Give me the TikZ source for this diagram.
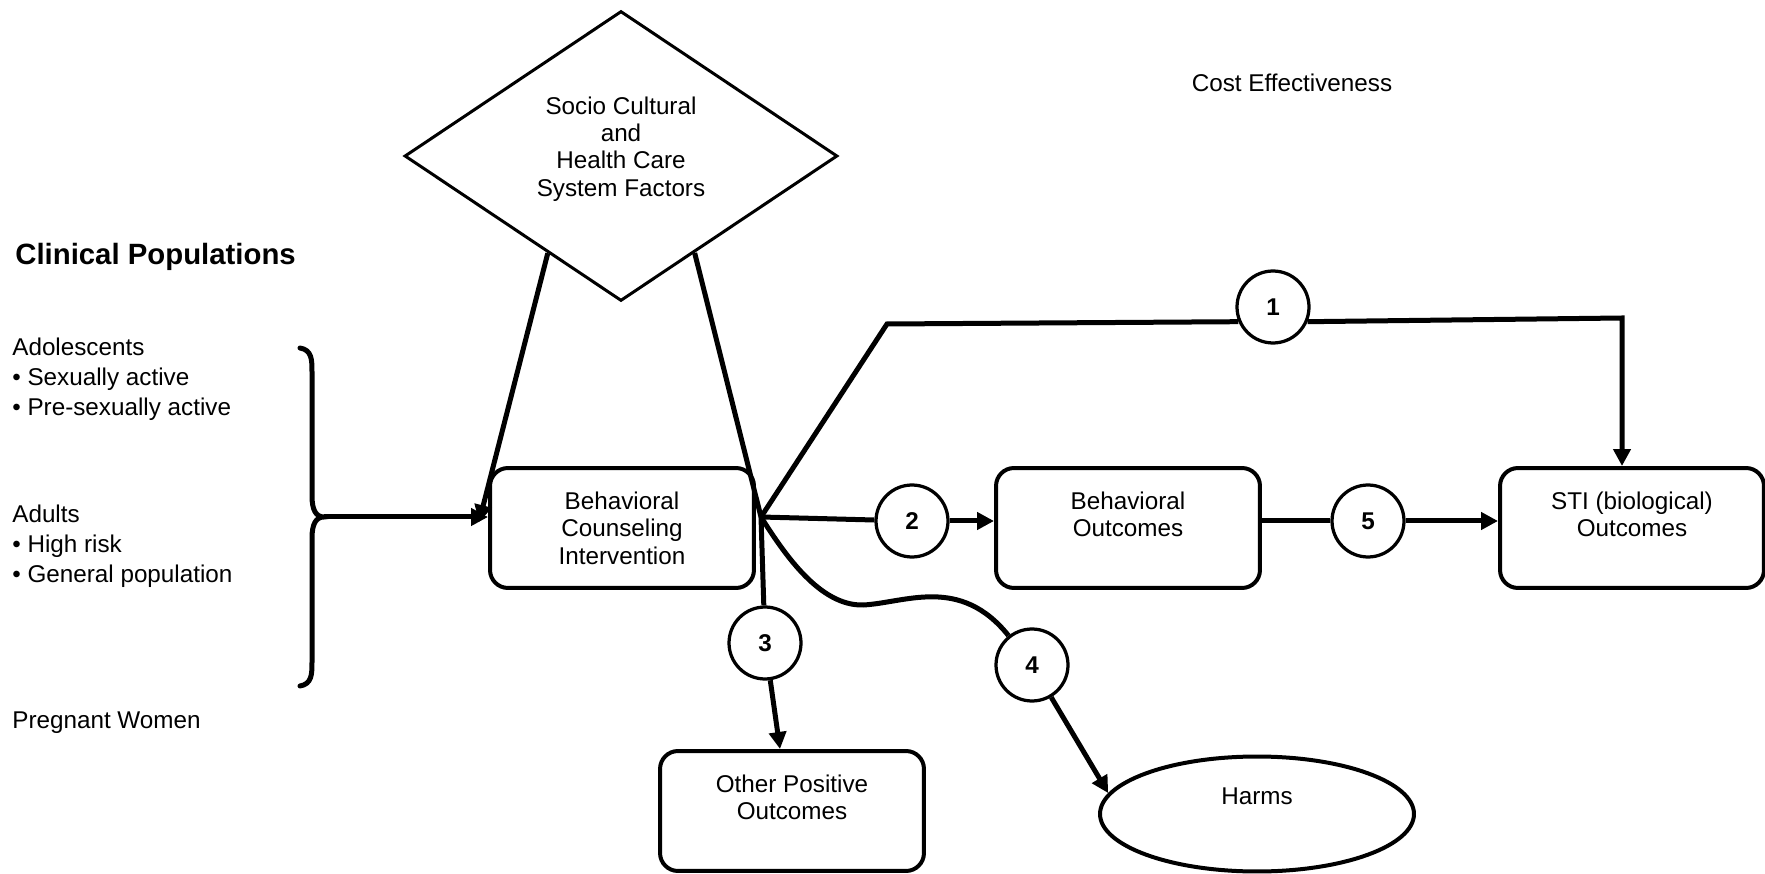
\documentclass[tikz,border=0pt]{standalone}
\usepackage{fontspec}
\setmainfont{Liberation Sans}
\usetikzlibrary{positioning,calc,shapes.geometric,arrows.meta}

\tikzset{
  outbox/.style={draw, rounded corners=0.36cm, line width=0.08cm,
    minimum width=5.28cm, minimum height=2.4cm, align=center, inner sep=0pt},
  kqcircle/.style={draw, circle, line width=0.065cm, minimum size=1.44cm,
    inner sep=0pt, font=\fontsize{13.8}{15.6}\selectfont\bfseries},
  poptext/.style={anchor=west, align=left, inner sep=0pt,
    font=\fontsize{13.8}{17}\selectfont},
  link/.style={line width=0.1cm},
  linkarrow/.style={link, -{Triangle[length=0.34cm, width=0.34cm]}},
}

\begin{document}
\begin{tikzpicture}[x=0.02cm, y=-0.02cm, font=\fontsize{13.8}{15.6}\selectfont]

\useasboundingbox (0,0) rectangle (1765,874);

% --- TITLES ---
\node[anchor=west, inner sep=0pt, font=\fontsize{16.7}{20}\selectfont\bfseries]
  (clinpop) at (15,257) {Clinical Populations};
\node (costeff) at (1292,83) {Cost Effectiveness};

% --- POPULATIONS ---
\node[poptext] (adolesc) at (12,379) {Adolescents\\• Sexually active\\• Pre-sexually active};
\node[poptext] (adults) at (12,546) {Adults\\• High risk\\• General population};
\node[poptext] (pregnant) at (12,723) {Pregnant Women};

% --- BRACE ---
\coordinate (bracetip) at (324,517);
\draw[link, line cap=round]
  (300,348) .. controls (312,350) and (312,360) .. (312,372) -- (312,496)
  .. controls (312,510) and (316,517) .. (bracetip)
  .. controls (316,517) and (312,524) .. (312,538) -- (312,662)
  .. controls (312,674) and (312,684) .. (300,686);

% --- CONTEXT (diamond) ---
\node[diamond, draw, line width=0.06cm, minimum width=8.66cm,
  minimum height=5.8cm, inner sep=0pt] (socio) at (621,156) {};
\node[align=center] (sociotext) at (621,149)
  {Socio Cultural\\and\\Health Care\\System Factors};

% --- BOXES ---
\node[outbox] (bci) at (622,528) {Behavioral\\Counseling\\Intervention};
\node[outbox] (bo) at (1128,528) {Behavioral\\Outcomes\\ \mbox{}};
\node[outbox] (sti) at (1632,528) {STI (biological)\\Outcomes\\ \mbox{}};
\node[outbox] (opo) at (792,811) {Other Positive\\Outcomes\\ \mbox{}};
\node[ellipse, draw, line width=0.08cm, minimum width=6.28cm,
  minimum height=2.3cm, align=center, inner sep=0pt] (harms) at (1257,814)
  {Harms\\[5pt] \mbox{}};

% --- KEY QUESTIONS ---
\node[kqcircle] (k1) at (1273,307) {1};
\node[kqcircle] (k2) at (912,521) {2};
\node[kqcircle] (k3) at (765,643) {3};
\node[kqcircle] (k4) at (1032,665) {4};
\node[kqcircle] (k5) at (1368,521) {5};

\coordinate (hub) at (761,517);
\coordinate (socioend) at (479,522);
\coordinate (kqbend) at (887,324);
\coordinate (kqdrop) at (1622,318);

% --- CONNECTORS ---
\draw[linkarrow] (bracetip) -- (bracetip -| bci.west);
\draw[linkarrow] ($(socio.west)!0.664!(socio.south)$) -- (socioend);
\draw[link] ($(socio.south)!0.338!(socio.east)$) -- (hub);

% KQ1
\draw[link] (hub) -- (kqbend) -- (k1.203);
\draw[linkarrow] (k1.-23) -- (kqdrop) -- (kqdrop |- sti.north);
% KQ2
\draw[link] (hub) -- (k2);
\draw[linkarrow] (k2) -- (k2 -| bo.west);
% KQ3
\draw[link] (hub) -- (k3);
\draw[linkarrow] (k3) -- ($(opo.north)+(-12,0)$);
% KQ4
\draw[link] (hub) .. controls (785,555) and (820,606) .. (863,605)
  .. controls (905,603) and (960,575) .. (k4);
\draw[linkarrow] (k4) -- (harms.172);
% KQ5
\draw[link] (bo.east |- k5) -- (k5);
\draw[linkarrow] (k5) -- (k5 -| sti.west);

\end{tikzpicture}
\end{document}
